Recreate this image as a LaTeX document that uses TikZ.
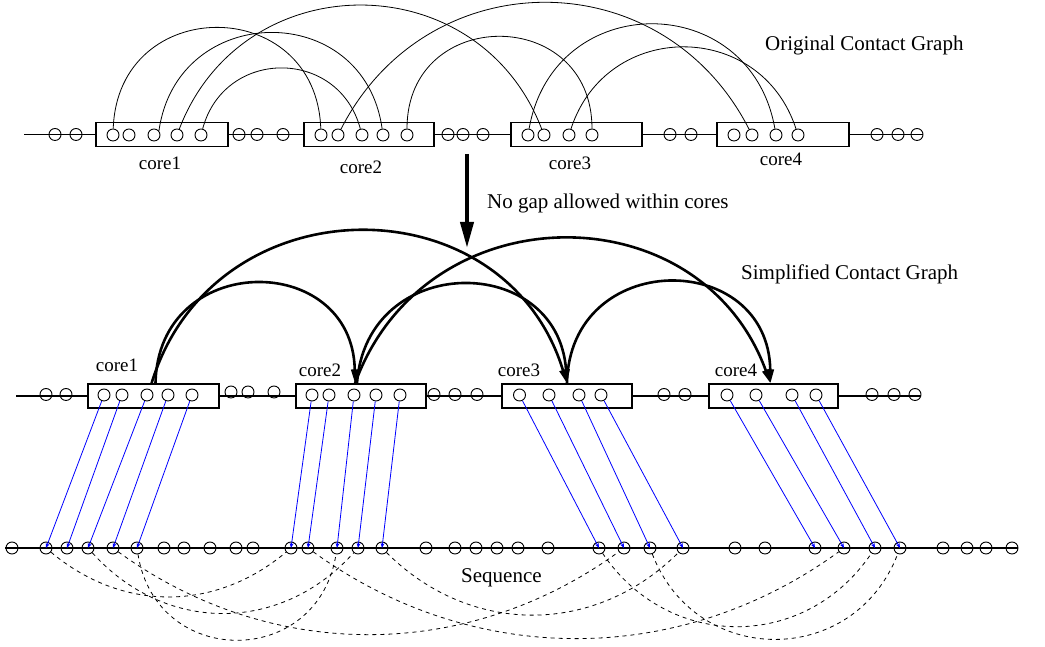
\documentclass[tikz,border=0pt]{standalone}
\usepackage{fontspec}
\setmainfont{Liberation Serif}
\usetikzlibrary{arrows.meta,calc}
\begin{document}
\begin{tikzpicture}[x=1pt,y=1pt,
  dot/.style={circle,draw,line width=0.9pt,minimum size=12pt,inner sep=0pt},
  corebox/.style={rectangle,draw,line width=1.1pt,minimum height=23.5pt,inner sep=0pt},
  seqline/.style={line width=1.1pt},
  toparc/.style={line width=0.8pt},
  thickarc/.style={line width=2.6pt,-{Triangle[length=14pt,width=7pt]}},
  bigarrow/.style={line width=4pt,-{Triangle[length=26pt,width=13pt]}},
  mapline/.style={blue,line width=0.8pt,-{Stealth[length=5pt,width=4pt]}},
  hang/.style={dash pattern=on 4pt off 4pt,line width=0.8pt},
  title/.style={inner sep=0pt,anchor=base west,font=\fontsize{21}{25}\selectfont},
  corelabel/.style={inner sep=0pt,anchor=base,font=\fontsize{19}{23}\selectfont},
]
\useasboundingbox (0,0) rectangle (1045,647);

% ---------------- top row: original contact graph
\node[corebox,minimum width=132pt] (TB1) at (162,512.5) {};
\node[corebox,minimum width=130pt] (TB2) at (369,512.5) {};
\node[corebox,minimum width=131pt] (TB3) at (576.5,512.5) {};
\node[corebox,minimum width=132pt] (TB4) at (783,512.5) {};
\coordinate (TL) at (24,512.5);
\coordinate (TR) at (923,512.5);
\draw[seqline] (TL) -- (TB1.west) (TB1.east) -- (TB2.west) (TB2.east) -- (TB3.west)
  (TB3.east) -- (TB4.west) (TB4.east) -- (TR);
\foreach \x [count=\i] in {55,76,239,257,283,448,463,483,670,691,877,898,917}
  \node[dot] (to\i) at (\x,512.5) {};
\foreach \x [count=\i] in {113,129,154,177,201} \node[dot] (ta\i) at (\x,512) {};
\foreach \x [count=\i] in {321,338,362,383,407} \node[dot] (tb\i) at (\x,512) {};
\foreach \x [count=\i] in {528,544,569,592} \node[dot] (tc\i) at (\x,512) {};
\foreach \x [count=\i] in {734,752,776,798} \node[dot] (td\i) at (\x,512) {};

\draw[toparc] (ta1) to[out=88,in=92,distance=135pt] (tb1);
\draw[toparc] (ta3.40) to[out=82,in=98,distance=131pt] (tb4);
\draw[toparc] (ta5) to[out=75,in=105,distance=84pt] (tb3);
\draw[toparc] (ta4) to[out=69,in=111,distance=177pt] (tc2);
\draw[toparc] (tb2) to[out=63,in=117,distance=190pt] (td2);
\draw[toparc] (tb5) to[out=90,in=90,distance=123pt] (tc4);
\draw[toparc] (tc1) to[out=80,in=100,distance=142pt] (td3);
\draw[toparc] (tc3) to[out=72,in=108,distance=115pt] (td4);

\node[corelabel] (tl1) at (160,477) {core1};
\node[corelabel] (tl2) at (361,473) {core2};
\node[corelabel] (tl3) at (570,477) {core3};
\node[corelabel] (tl4) at (781,481) {core4};
\node[title] (t1) at (765,596) {Original Contact Graph};

% ---------------- arrow
\coordinate (A1) at (467,493);
\coordinate (A2) at (467,399);
\draw[bigarrow] (A1) -- (A2);
\node[title] (t2) at (487,438) {No gap allowed within cores};

% ---------------- middle row: simplified contact graph
\node[corebox,minimum width=131pt,minimum height=24pt] (MB1) at (153.5,251) {};
\node[corebox,minimum width=130pt,minimum height=24pt] (MB2) at (361,251) {};
\node[corebox,minimum width=130pt,minimum height=24pt] (MB3) at (567,251) {};
\node[corebox,minimum width=129pt,minimum height=24pt] (MB4) at (773.5,251) {};
\coordinate (ML) at (16,251);
\coordinate (MR) at (921,251);
\draw[seqline] (ML) -- (MB1.west) (MB1.east) -- (MB2.west) (MB2.east) -- (MB3.west)
  (MB3.east) -- (MB4.west) (MB4.east) -- (MR);
\foreach \x [count=\i] in {46,66,434,455,477,664,685,872,894,915}
  \node[dot] (mo\i) at (\x,252.5) {};
\foreach \x [count=\i] in {231,248,274} \node[dot] (mg\i) at (\x,255) {};
\foreach \x [count=\i] in {104,122,147,168,192} \node[dot] (ma\i) at (\x,252) {};
\foreach \x [count=\i] in {312,329,354,376,400} \node[dot] (mb\i) at (\x,252) {};
\foreach \x [count=\i] in {519.5,549,579,601} \node[dot] (mc\i) at (\x,252) {};
\foreach \x [count=\i] in {727,756,792,816} \node[dot] (md\i) at (\x,252) {};

\draw[thickarc] ([xshift=-2pt]MB1.north) to[out=73,in=107,distance=212pt] (MB3.north);
\draw[thickarc] ([xshift=2pt]MB1.north) to[out=89,in=91,distance=133pt] ([xshift=-6pt]MB2.north);
\draw[thickarc] ([xshift=-6pt]MB2.north) to[out=70,in=110,distance=205pt] ([xshift=-3pt]MB4.north);
\draw[thickarc] ([xshift=-4pt]MB2.north) to[out=86,in=94,distance=132pt] (MB3.north);
\draw[thickarc] (MB3.north) to[out=89,in=91,distance=135pt] ([xshift=-3pt]MB4.north);

\node[corelabel] (ml1) at (117,275) {core1};
\node[corelabel] (ml2) at (320,270) {core2};
\node[corelabel] (ml3) at (519,270) {core3};
\node[corelabel] (ml4) at (736,270) {core4};
\node[title] (t3) at (741,367) {Simplified Contact Graph};

% ---------------- bottom row: sequence
\coordinate (SL) at (5,99);
\coordinate (SR) at (1018,99);
\draw[seqline] (SL) -- (SR);
\foreach \x [count=\i] in {12,46,67,88,113,137,164,184,210,236,253,291,308,337,358,382,
  426,455,476,497,518,548,599,624,650,683,735,765,815,844,875,900,943,967,986,1012}
  \node[dot] (b\i) at (\x,99) {};
\node[title] (t4) at (461,64) {Sequence};

% mapping lines
\draw[mapline] (ma1) -- (b2.center);
\draw[mapline] (ma2) -- (b3.center);
\draw[mapline] (ma3) -- (b4.center);
\draw[mapline] (ma4) -- (b5.center);
\draw[mapline] (ma5) -- (b6.center);
\draw[mapline] (mb1) -- (b12.center);
\draw[mapline] (mb2) -- (b13.center);
\draw[mapline] (mb3) -- (b14.center);
\draw[mapline] (mb4) -- (b15.center);
\draw[mapline] (mb5) -- (b16.center);
\draw[mapline] (mc1) -- (b23.center);
\draw[mapline] (mc2) -- (b24.center);
\draw[mapline] (mc3) -- (b25.center);
\draw[mapline] (mc4) -- (b26.center);
\draw[mapline] (md1) -- (b29.center);
\draw[mapline] (md2) -- (b30.center);
\draw[mapline] (md3) -- (b31.center);
\draw[mapline] (md4) -- (b32.center);

% contacts in sequence
\draw[hang] (b2) to[out=-40,in=220,distance=93pt] (b12);
\draw[hang] (b4) to[out=-48,in=228,distance=109pt] (b15);
\draw[hang] (b6) to[out=-81,in=261,distance=116pt] (b14);
\draw[hang] (b5) to[out=-36,in=216,distance=188pt] (b24);
\draw[hang] (b13) to[out=-36,in=216,distance=197pt] (b30);
\draw[hang] (b16) to[out=-45,in=225,distance=118pt] (b26);
\draw[hang] (b23) to[out=-56,in=236,distance=118pt] (b31);
\draw[hang] (b25) to[out=-69,in=249,distance=122pt] (b32);
\end{tikzpicture}
\end{document}
